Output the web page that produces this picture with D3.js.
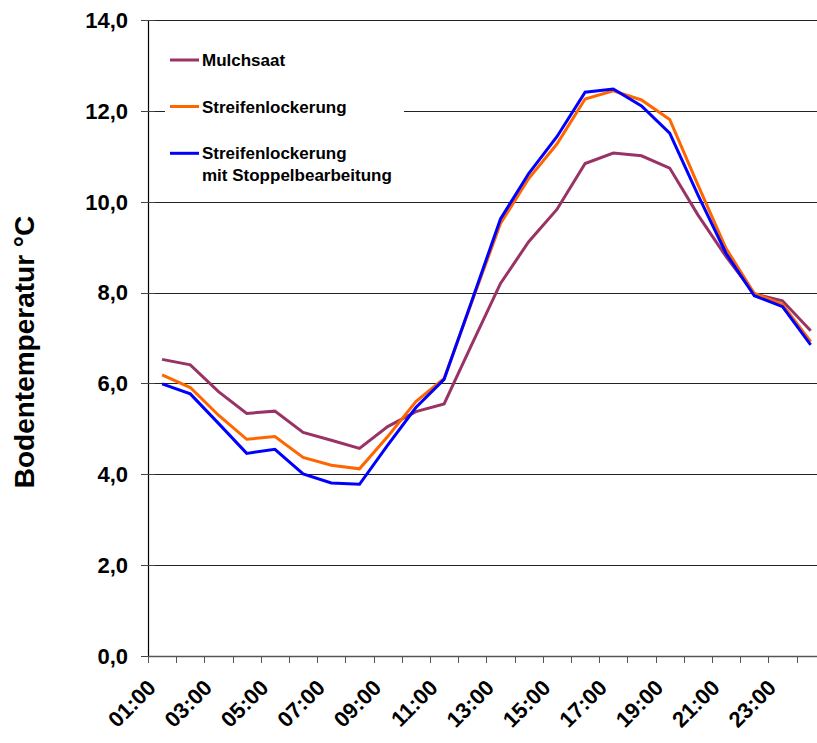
<!DOCTYPE html>
<html>
<head>
<meta charset="utf-8">
<script src="https://cdn.jsdelivr.net/npm/d3@7"></script>
<style>
  html, body { margin: 0; padding: 0; background: #fff; }
  svg { display: block; }
  text { font-family: "Liberation Sans", Arial, sans-serif; font-weight: bold; fill: #000; }
</style>
</head>
<body>
<svg id="chart" width="817" height="743"></svg>
<script>
const categories = ["01:00","02:00","03:00","04:00","05:00","06:00","07:00","08:00","09:00","10:00","11:00","12:00",
                    "13:00","14:00","15:00","16:00","17:00","18:00","19:00","20:00","21:00","22:00","23:00","24:00"];
const mulchsaat = [6.53, 6.41, 5.82, 5.34, 5.39, 4.92, 4.75, 4.57, 5.05, 5.38, 5.55, 6.88,
                   8.20, 9.12, 9.83, 10.84, 11.07, 11.01, 10.74, 9.71, 8.79, 7.97, 7.82, 7.16];
const streifenlockerung = [6.19, 5.91, 5.30, 4.77, 4.83, 4.37, 4.20, 4.12, 4.83, 5.60, 6.11, 7.82,
                           9.52, 10.51, 11.27, 12.26, 12.44, 12.24, 11.81, 10.37, 8.97, 7.98, 7.74, 6.92];
const stoppel = [5.99, 5.77, 5.12, 4.46, 4.55, 4.01, 3.81, 3.78, 4.64, 5.47, 6.09, 7.85,
                 9.62, 10.62, 11.43, 12.41, 12.48, 12.11, 11.51, 10.15, 8.86, 7.93, 7.69, 6.85];
const yTicks = [0, 2, 4, 6, 8, 10, 12, 14];
const xLabels = ["01:00","03:00","05:00","07:00","09:00","11:00","13:00","15:00","17:00","19:00","21:00","23:00"];
const seriesNames = ["Mulchsaat", "Streifenlockerung", "Streifenlockerung|mit Stoppelbearbeitung"];
const seriesColors = ["#993366", "#FF6600", "#0000FF"];

(function () {
const svg = d3.select("#chart");
const mLeft = 148, mTop = 20, mBottom = 656, bandW = 28.2;
const x = d3.scaleBand().domain(categories).range([mLeft, mLeft + bandW * categories.length]);
const y = d3.scaleLinear().domain([0, 14]).range([mBottom, mTop]);
const fmt = v => d3.format(".1f")(v).replace(".", ",");

// gridlines
svg.append("g").selectAll("line").data(yTicks.filter(d => d > 0)).join("line")
  .attr("x1", mLeft).attr("x2", 817)
  .attr("y1", d => Math.round(y(d)) + 0.5).attr("y2", d => Math.round(y(d)) + 0.5)
  .attr("stroke", "#222").attr("stroke-width", 1);

// y axis
const yAxis = svg.append("g");
yAxis.append("line").attr("x1", mLeft + 0.5).attr("x2", mLeft + 0.5).attr("y1", y(14)).attr("y2", y(0))
  .attr("stroke", "#000").attr("stroke-width", 1.2);
yAxis.selectAll(".tk").data(yTicks).join("line")
  .attr("x1", mLeft - 7).attr("x2", mLeft + 7)
  .attr("y1", d => Math.round(y(d)) + 0.5).attr("y2", d => Math.round(y(d)) + 0.5)
  .attr("stroke", "#444");
yAxis.selectAll("text").data(yTicks).join("text")
  .attr("x", 128).attr("y", d => y(d)).attr("dy", "0.36em")
  .attr("text-anchor", "end").style("font-size", "22px").text(fmt);

// x axis
const xAxis = svg.append("g");
xAxis.append("line").attr("x1", mLeft).attr("x2", 817).attr("y1", mBottom + 0.5).attr("y2", mBottom + 0.5)
  .attr("stroke", "#555").attr("stroke-width", 1.5);
xAxis.selectAll(".tk").data(categories).join("line")
  .attr("x1", d => Math.round(x(d)) + 0.5).attr("x2", d => Math.round(x(d)) + 0.5)
  .attr("y1", mBottom).attr("y2", mBottom + 7)
  .attr("stroke", "#555");
xAxis.selectAll("text").data(xLabels).join("text")
  .attr("transform", d => `translate(${x(d) + x.bandwidth() / 2 - 5},${689}) rotate(-45)`)
  .attr("text-anchor", "end").style("font-size", "22px").text(d => d);

// y title
svg.append("text").attr("transform", "translate(34,352) rotate(-90)")
  .attr("text-anchor", "middle").style("font-size", "28px").text("Bodentemperatur °C");

// lines
const line = d3.line().x((d, i) => x(categories[i]) + x.bandwidth() / 2).y(d => y(d));
[mulchsaat, streifenlockerung, stoppel].forEach((s, i) => {
  svg.append("path").datum(s).attr("d", line).attr("fill", "none")
    .attr("stroke", seriesColors[i]).attr("stroke-width", 3).attr("stroke-linejoin", "miter");
});

// legend
const lg = svg.append("g");
lg.append("rect").attr("x", 165).attr("y", 32).attr("width", 239).attr("height", 160).attr("fill", "#fff");
const ly = [60, 106.5, 153.3];
seriesNames.forEach((name, i) => {
  lg.append("line").attr("x1", 170).attr("x2", 199).attr("y1", ly[i]).attr("y2", ly[i])
    .attr("stroke", seriesColors[i]).attr("stroke-width", 3);
  const parts = name.split("|");
  parts.forEach((p, j) => {
    lg.append("text").attr("x", 202).attr("y", ly[i] + 6 + j * 21.5)
      .style("font-size", "17px").text(p);
  });
});
})();
</script>
</body>
</html>
